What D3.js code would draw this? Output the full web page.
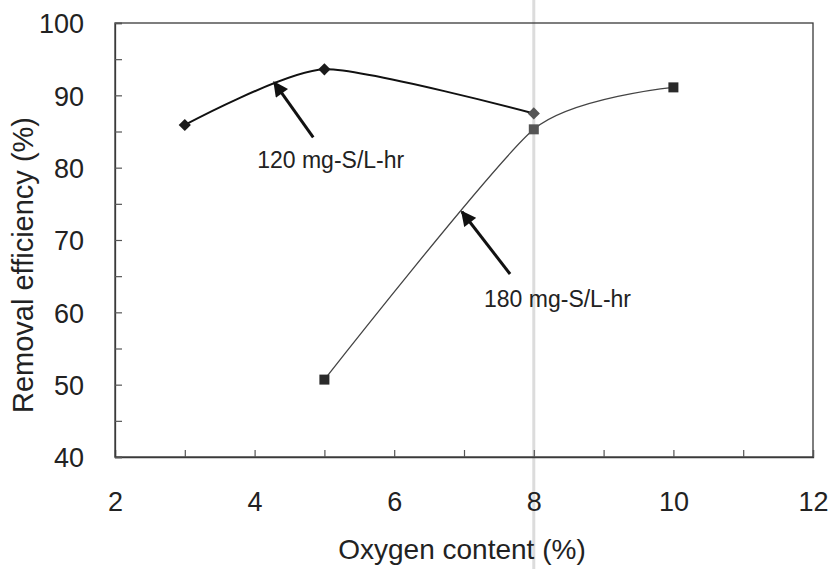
<!DOCTYPE html>
<html>
<head>
<meta charset="utf-8">
<script src="https://cdn.jsdelivr.net/npm/d3@7"></script>
<style>
  body { margin: 0; background: #fff; }
  svg { display: block; font-family: "Liberation Sans", Arial, sans-serif; }
</style>
</head>
<body>
<svg id="chart"></svg>
<script>
// data
const oxygen120 = [3, 5, 8];
const eff120 = [85.9, 93.6, 87.5];
const oxygen180 = [5, 8, 10];
const eff180 = [50.7, 85.3, 91.1];

const xTickLabels = [2, 4, 6, 8, 10, 12];
const yTickLabels = [40, 50, 60, 70, 80, 90, 100];

// annotations, in data units: arrow tip, arrow tail, label anchor
const notes = [
  { text: "120 mg-S/L-hr", tip: [4.28, 91.8], tail: [4.84, 84.2], label: [5.09, 80.0] },
  { text: "180 mg-S/L-hr", tip: [6.97, 73.9], tail: [7.66, 65.3], label: [8.34, 60.7] }
];

const W = 834, H = 569;
const margin = { top: 23, right: 21, bottom: 112, left: 115 };

const svg = d3.select("#chart").attr("width", W).attr("height", H);

const x = d3.scaleLinear().domain([2, 12]).range([margin.left, W - margin.right]);
const y = d3.scaleLinear().domain([40, 100]).range([H - margin.bottom, margin.top]);

// faint scan fold running down the page
svg.append("line")
  .attr("x1", x(8)).attr("x2", x(8))
  .attr("y1", 0).attr("y2", H)
  .attr("stroke", "#dcdcdc")
  .attr("stroke-width", 3);

// frame
svg.append("rect")
  .attr("x", x(2)).attr("y", y(100))
  .attr("width", x(12) - x(2)).attr("height", y(40) - y(100))
  .attr("fill", "none")
  .attr("stroke", "#3a3a3a")
  .attr("stroke-width", 1.3);

// axes with inward ticks
const xAxis = svg.append("g")
  .attr("transform", `translate(0,${y(40)})`)
  .call(d3.axisBottom(x).tickValues(d3.range(2, 12.01, 1)).tickSize(-7).tickPadding(35)
    .tickFormat(d => xTickLabels.includes(d) ? d : ""));

const yAxis = svg.append("g")
  .attr("transform", `translate(${x(2)},0)`)
  .call(d3.axisLeft(y).tickValues(d3.range(40, 100.01, 5)).tickSize(-7).tickPadding(31)
    .tickFormat(d => yTickLabels.includes(d) ? d : ""));

[xAxis, yAxis].forEach(g => {
  g.select(".domain").attr("stroke", "#3a3a3a").attr("stroke-width", 1.3);
  g.selectAll(".tick line").attr("stroke", "#555").attr("stroke-width", 1.2);
  g.selectAll(".tick text")
    .attr("fill", "#222")
    .style("font-size", "27px")
    .style("font-family", '"Liberation Sans", Arial, sans-serif');
});
yAxis.selectAll(".tick text").attr("dy", "0.36em");

// axis titles
svg.append("text")
  .attr("x", 462).attr("y", 559)
  .attr("text-anchor", "middle")
  .attr("fill", "#222")
  .style("font-size", "28px")
  .text("Oxygen content (%)");

svg.append("text")
  .attr("transform", `translate(33,${(y(40) + y(100)) / 2 + 25}) rotate(-90)`)
  .attr("text-anchor", "middle")
  .attr("fill", "#222")
  .style("font-size", "29px")
  .text("Removal efficiency (%)");

// series
const pts120 = oxygen120.map((d, i) => [d, eff120[i]]);
const pts180 = oxygen180.map((d, i) => [d, eff180[i]]);

const line = d3.line()
  .x(d => x(d[0]))
  .y(d => y(d[1]))
  .curve(d3.curveCardinal.tension(0.35));

svg.append("path")
  .attr("d", line(pts180))
  .attr("fill", "none")
  .attr("stroke", "#444")
  .attr("stroke-width", 1.3);

svg.append("path")
  .attr("d", line(pts120))
  .attr("fill", "none")
  .attr("stroke", "#111")
  .attr("stroke-width", 2);

svg.selectAll(".sq")
  .data(pts180)
  .join("rect")
  .attr("class", "sq")
  .attr("x", d => x(d[0]) - 5)
  .attr("y", d => y(d[1]) - 5)
  .attr("width", 10).attr("height", 10)
  .attr("fill", (d, i) => i === 1 ? "#555" : "#2a2a2a");

svg.selectAll(".dia")
  .data(pts120)
  .join("path")
  .attr("class", "dia")
  .attr("d", d3.symbol(d3.symbolDiamond2, 95))
  .attr("transform", d => `translate(${x(d[0])},${y(d[1])})`)
  .attr("fill", (d, i) => i === 2 ? "#555" : "#1a1a1a");

// arrows and labels
svg.append("defs").append("marker")
  .attr("id", "head")
  .attr("viewBox", "0 0 10 10")
  .attr("refX", 9).attr("refY", 5)
  .attr("markerWidth", 5.5).attr("markerHeight", 5)
  .attr("markerUnits", "strokeWidth")
  .attr("orient", "auto")
  .append("path")
  .attr("d", "M0,0 L10,5 L0,10 Z")
  .attr("fill", "#111");

const ann = svg.selectAll(".ann").data(notes).join("g").attr("class", "ann");

ann.append("line")
  .attr("x1", d => x(d.tail[0])).attr("y1", d => y(d.tail[1]))
  .attr("x2", d => x(d.tip[0])).attr("y2", d => y(d.tip[1]))
  .attr("stroke", "#111")
  .attr("stroke-width", 3)
  .attr("marker-end", "url(#head)");

ann.append("text")
  .attr("x", d => x(d.label[0])).attr("y", d => y(d.label[1]))
  .attr("text-anchor", "middle")
  .attr("fill", "#222")
  .style("font-size", "23px")
  .text(d => d.text);
</script>
</body>
</html>
